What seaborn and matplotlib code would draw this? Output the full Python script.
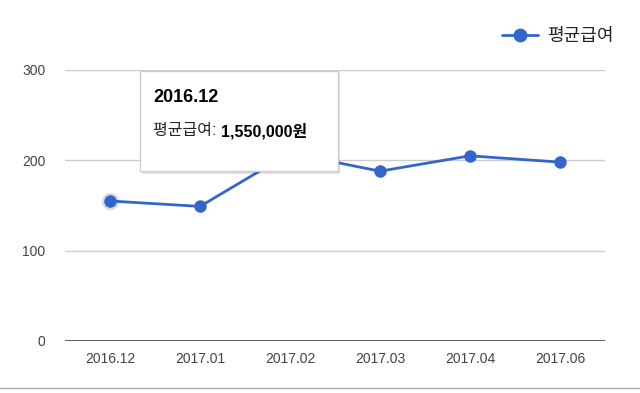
import matplotlib
matplotlib.use('Agg')
import matplotlib.pyplot as plt
import seaborn as sns
import pandas as pd
from matplotlib.patches import Rectangle
from matplotlib.lines import Line2D

# chart data
months = ['2016.12', '2017.01', '2017.02', '2017.03', '2017.04', '2017.06']
avg_pay = [155, 149, 208, 188, 205, 198]
y_ticks = [0, 100, 200, 300]
series_name = '평균급여'
tooltip_title = '2016.12'
tooltip_value = '1,550,000원'

sns.set_style('white')
plt.rcParams['font.family'] = ['Liberation Sans', 'Noto Sans CJK KR', 'DejaVu Sans']

blue = '#3366cc'
W, H = 640, 393
fig = plt.figure(figsize=(6.4, 3.93), dpi=100)
ax = fig.add_axes([65 / W, 1 - 341 / H, 540 / W, 271 / H])

df = pd.DataFrame({'month': months, 'pay': avg_pay})
sns.lineplot(data=df, x='month', y='pay', ax=ax, color=blue, linewidth=2,
             marker='o', markersize=9, markeredgewidth=0, sort=False)

# hover glow on the first point
ax.plot([0], [avg_pay[0]], 'o', color='#8899bb', markersize=12.5, alpha=0.35,
        markeredgewidth=0, zorder=1)

ax.set_xlim(-0.5, len(months) - 0.5)
ax.set_ylim(0, 300)
ax.set_yticks(y_ticks)
ax.set_xlabel('')
ax.set_ylabel('')
for s in ax.spines.values():
    s.set_visible(False)
ax.grid(axis='y', color='#cccccc', linewidth=1)
ax.axhline(0, color='#555555', linewidth=1.3, zorder=3)
ax.tick_params(axis='both', length=0, labelsize=10, labelcolor='#444444')
ax.tick_params(axis='y', pad=14)
ax.tick_params(axis='x', pad=8)

# legend
handle = Line2D([], [], color=blue, linewidth=2, marker='o', markersize=10,
                markeredgewidth=0)
fig.legend([handle], [series_name], loc='center right',
           bbox_to_anchor=(630 / W, 1 - 37 / H), frameon=False,
           fontsize=13, handlelength=2.0, handletextpad=0.5,
           labelcolor='#222222')

# tooltip box
tx, ty, tw, th = 140, 71, 198, 100
fig.patches.append(Rectangle(((tx + 2) / W, 1 - (ty + th + 3) / H), tw / W, th / H,
                             transform=fig.transFigure, facecolor='#000000',
                             alpha=0.12, edgecolor='none', zorder=9))
fig.patches.append(Rectangle((tx / W, 1 - (ty + th) / H), tw / W, th / H,
                             transform=fig.transFigure, facecolor='white',
                             edgecolor='#cccccc', linewidth=1, zorder=10))
fig.text(153 / W, 1 - 98 / H, tooltip_title, fontsize=13, fontweight='bold',
         color='black', va='center', zorder=11)
t1 = fig.text(153 / W, 1 - 131 / H, series_name + ': ', fontsize=11.5,
              color='#222222', va='center', zorder=11)
fig.canvas.draw()
bb = t1.get_window_extent()
fig.text(bb.x1 / W, 1 - 131 / H, tooltip_value, fontsize=11.5,
         fontweight='bold', color='black', va='center', zorder=11)

# bottom border line
fig.add_artist(Line2D([0, 1], [1 - 388 / H] * 2, transform=fig.transFigure,
                      color='#aaaaaa', linewidth=1))

fig.savefig('out.png', dpi=100)
